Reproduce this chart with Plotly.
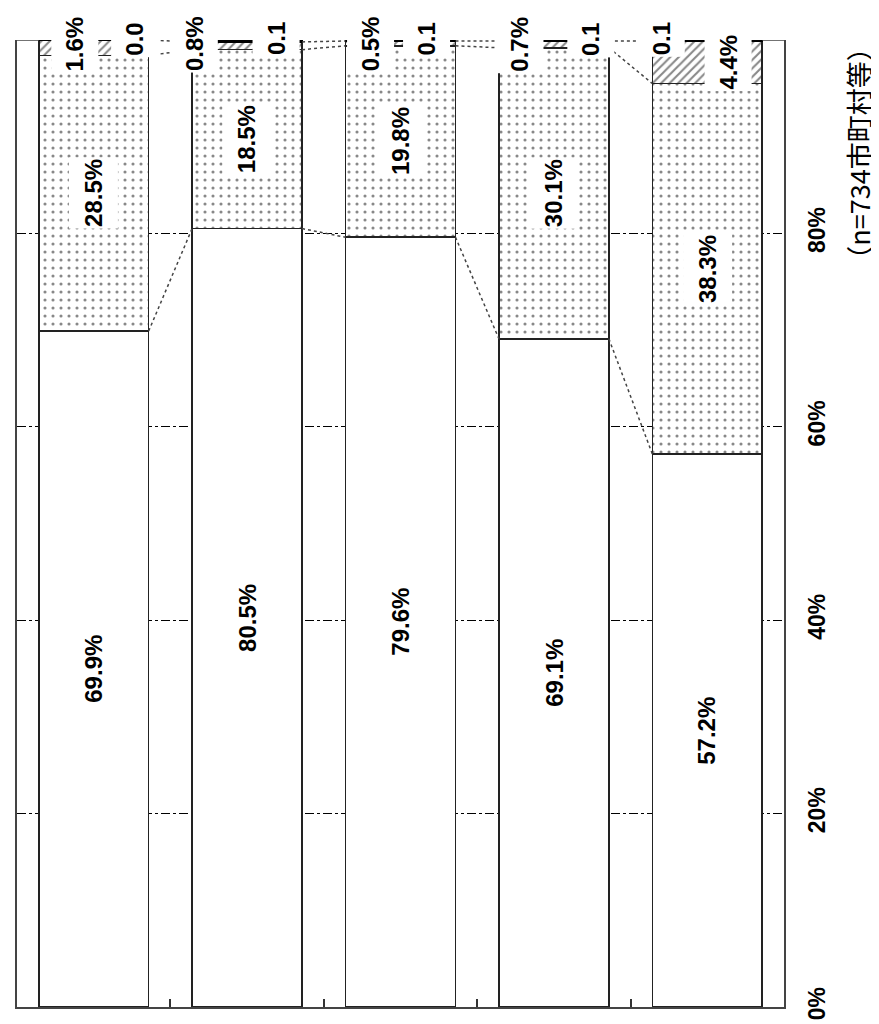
import plotly.graph_objects as go

# ---- data ----
groups = [0, 1, 2, 3, 4]
s_white = [69.9, 80.5, 79.6, 69.1, 57.2]
s_dots = [28.5, 18.5, 19.8, 30.1, 38.3]
s_hatch = [1.6, 0.8, 0.5, 0.7, 4.4]
s_black = [0.0, 0.1, 0.1, 0.1, 0.1]
y_ticks = [0, 20, 40, 60, 80, 100]
y_ticktext = ["0%", "20%", "40%", "60%", "80%", "100%"]
note_text = "（n=734市町村等）"

# ---- style / placement ----
BAR_W = 0.717
hatch_lbl_dx = [-0.124, -0.345, -0.196, -0.222, 0.137]
black_lbl_dx = [0.267, 0.189, 0.17, 0.241, -0.30]
FONT = "Liberation Sans"
LINE = "#222"
LBL = dict(family=FONT, size=24, color="black", weight="bold")

fig = go.Figure()
fig.add_bar(x=groups, y=s_white, width=BAR_W,
            marker=dict(color="white", line=dict(color=LINE, width=1.6)))
fig.add_bar(x=groups, y=s_dots, width=BAR_W,
            marker=dict(color="white", line=dict(color=LINE, width=1.6),
                        pattern=dict(shape=".", fgcolor="#111", bgcolor="white",
                                     size=8, solidity=0.12)))
fig.add_bar(x=groups, y=s_hatch, width=BAR_W,
            marker=dict(color="white", line=dict(color=LINE, width=1.6),
                        pattern=dict(shape="/", fgcolor="#111", bgcolor="white",
                                     size=6, solidity=0.35)))
fig.add_bar(x=groups, y=s_black, width=BAR_W,
            marker=dict(color="black", line=dict(color="black", width=2)))

series = [s_white, s_dots, s_hatch, s_black]
cums = []
for i in range(len(groups)):
    c, row = 0.0, []
    for s in series:
        c += s[i]
        row.append(c)
    cums.append(row)

ann = []
for i, g in enumerate(groups):
    base = 0.0
    for s in (s_white, s_dots):
        v = s[i]
        ann.append(dict(x=g, y=base + v / 2, text=f"{v:.1f}%", textangle=-90,
                        showarrow=False, bgcolor="white", height=46,
                        xanchor="center", yanchor="middle", font=LBL))
        base += v
    v = s_hatch[i]
    if v > 2:
        ann.append(dict(x=g + hatch_lbl_dx[i], y=base + v / 2, text=f"{v:.1f}%",
                        textangle=-90, showarrow=False, bgcolor="white", height=44,
                        xanchor="center", yanchor="middle", font=LBL))
    else:
        ann.append(dict(x=g + hatch_lbl_dx[i], y=0.996, yref="paper", text=f"{v:.1f}%",
                        textangle=-90, showarrow=False, bgcolor="white", height=44,
                        xanchor="center", yanchor="middle", font=LBL))
    v = s_black[i]
    ann.append(dict(x=g + black_lbl_dx[i], y=1.001, yref="paper", text=f"{v:.1f}",
                    textangle=-90, showarrow=False, bgcolor="white", height=44,
                    xanchor="center", yanchor="middle", font=LBL))

ann.append(dict(xref="paper", yref="paper", x=1.096, y=0.882, text=note_text,
                textangle=-90, showarrow=False, xanchor="center", yanchor="middle",
                font=dict(family="Noto Sans CJK JP", size=27, color="black")))

shapes = []
for i in range(len(groups) - 1):
    x0 = groups[i] + BAR_W / 2
    x1 = groups[i + 1] - BAR_W / 2
    for k in range(3):
        shapes.append(dict(type="line", xref="x", yref="y", x0=x0, x1=x1,
                           y0=cums[i][k], y1=cums[i + 1][k],
                           line=dict(color="#444", width=1.5, dash="dot")))
shapes.append(dict(type="line", xref="x", yref="y", x0=-0.5, x1=groups[0] - BAR_W / 2,
                   y0=100, y1=100, line=dict(color="#444", width=1.5)))
shapes.append(dict(type="line", xref="x", yref="y", x0=groups[-1] + BAR_W / 2, x1=4.5,
                   y0=100, y1=100, line=dict(color="#444", width=1.5)))

fig.update_layout(
    width=879, height=1024, barmode="stack", showlegend=False,
    paper_bgcolor="white", plot_bgcolor="white",
    margin=dict(l=9, r=103, t=32, b=25, autoexpand=False),
    annotations=ann, shapes=shapes,
    xaxis=dict(range=[-0.5, 4.5], showline=True, linecolor="#444", linewidth=2,
               mirror=False, tickvals=[0.5, 1.5, 2.5, 3.5], ticks="inside",
               ticklen=8, tickwidth=1.5, tickcolor="#333", showticklabels=False,
               showgrid=False, zeroline=False, automargin=False),
    yaxis=dict(range=[0, 100], side="right", showline=True, mirror=True,
               linecolor="#444", linewidth=2, tickvals=y_ticks, ticktext=y_ticktext,
               tickangle=-90, ticks="", showgrid=True, gridcolor="black",
               griddash="dashdot", gridwidth=1, zeroline=False,
               ticklabelstandoff=11, automargin=False,
               tickfont=dict(family=FONT, size=23, color="black", weight="bold")),
)

fig.write_html("out.html")
